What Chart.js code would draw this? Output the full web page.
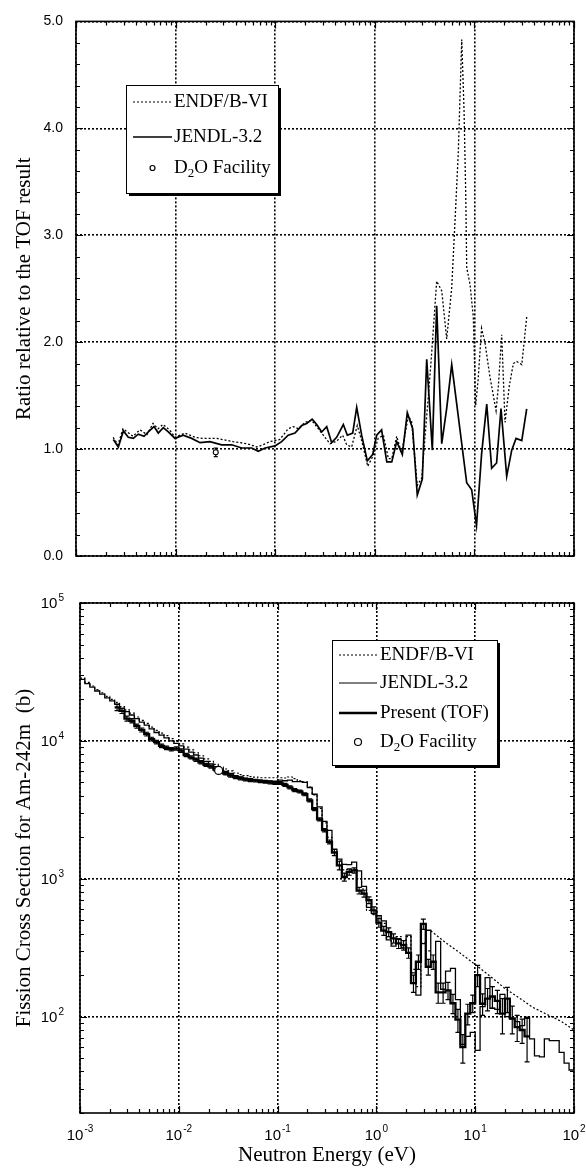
<!DOCTYPE html>
<html>
<head>
<meta charset="utf-8">
<title>Am-242m fission cross section</title>
<script src="https://cdn.jsdelivr.net/npm/chart.js@4.4.1/dist/chart.umd.min.js"></script>
<style>
  html, body { margin: 0; padding: 0; background: #fff; }
  #wrap { position: relative; width: 586px; height: 1172px; }
  #wrap canvas { position: absolute; left: 0; }
  #c-ratio { top: 0; }
  #c-xs { top: 578px; }
</style>
</head>
<body>
<div id="wrap">
  <canvas id="c-ratio" width="586" height="578"></canvas>
  <canvas id="c-xs" width="586" height="594"></canvas>
</div>
<script>
/* Am-242m fission: library / TOF ratio (top) and cross section (bottom) */

// ---- axes ----
const energyDecades = [1e-3, 1e-2, 1e-1, 1, 10, 100];
const energyExponents = ["-3", "-2", "-1", "0", "1", "2"];
const xsDecades = [1e2, 1e3, 1e4, 1e5];
const xsExponents = ["2", "3", "4", "5"];
const ratioTicks = [0, 1, 2, 3, 4, 5];
const ratioMinor = [0.2, 0.4, 0.6, 0.8];
const minorSteps = [2, 3, 4, 5, 6, 7, 8, 9];

// ---- top panel: ratio relative to TOF ----
const ratioJendlE = [0.00237, 0.00266, 0.00299, 0.00335, 0.00376, 0.00422, 0.00482, 0.00532, 0.00607, 0.0067,
  0.00752, 0.00845, 0.00986, 0.0119, 0.0145, 0.0176, 0.0221, 0.029, 0.0366, 0.0461,
  0.0581, 0.0676, 0.0791, 0.0995, 0.116, 0.135, 0.158, 0.185, 0.207, 0.235,
  0.261, 0.293, 0.329, 0.369, 0.414, 0.483, 0.53, 0.6, 0.658, 0.738,
  0.841, 0.953, 1.045, 1.17, 1.32, 1.48, 1.66, 1.89, 2.12, 2.4,
  2.67, 3.0, 3.32, 3.78, 4.18, 4.7, 5.27, 5.92, 8.37, 9.39,
  10.5, 11.8, 13.3, 14.9, 16.7, 18.5, 21.1, 23.7, 26.2, 29.9, 33.5];
const ratioJendl = [1.09, 1.02, 1.17, 1.11, 1.10, 1.14, 1.12, 1.16, 1.21, 1.15,
  1.20, 1.16, 1.10, 1.13, 1.10, 1.06, 1.07, 1.04, 1.04, 1.01,
  1.01, 0.98, 1.01, 1.03, 1.07, 1.13, 1.15, 1.22, 1.24, 1.28,
  1.23, 1.16, 1.21, 1.06, 1.11, 1.23, 1.13, 1.15, 1.39, 1.13,
  0.89, 0.95, 1.13, 1.18, 0.88, 0.88, 1.07, 0.95, 1.34, 1.19,
  0.57, 0.72, 1.84, 0.99, 2.34, 1.05, 1.38, 1.79, 0.685, 0.62,
  0.285, 0.95, 1.42, 0.82, 0.87, 1.38, 0.745, 0.99, 1.10, 1.08, 1.375];
const ratioEndfE = [0.00236, 0.00264, 0.00296, 0.00373, 0.00439, 0.00516, 0.00593, 0.00666, 0.00747, 0.00878,
  0.00986, 0.0124, 0.0157, 0.0188, 0.0259, 0.0377, 0.052, 0.0655, 0.0755, 0.0886,
  0.1115, 0.135, 0.152, 0.171, 0.199, 0.232, 0.261, 0.304, 0.355, 0.414,
  0.476, 0.522, 0.586, 0.667, 0.738, 0.849, 0.953, 1.08, 1.22, 1.37,
  1.48, 1.66, 1.86, 2.17, 2.34, 2.67, 2.96, 3.64, 4.18, 4.7,
  5.27, 5.92, 6.38, 6.89, 7.46, 7.87, 8.18, 8.37, 9.04, 9.75,
  10.3, 10.9, 11.8, 12.8, 14.3, 16.5, 17.4, 18.8, 20.3, 22.4,
  24.6, 26.6, 29.9, 33.5];
const ratioEndf = [1.11, 1.04, 1.19, 1.12, 1.18, 1.135, 1.24, 1.19, 1.23, 1.175,
  1.11, 1.15, 1.11, 1.10, 1.10, 1.07, 1.05, 1.02, 1.04, 1.07,
  1.09, 1.19, 1.21, 1.19, 1.25, 1.27, 1.21, 1.13, 1.05, 1.075,
  1.13, 1.04, 1.02, 1.22, 1.08, 0.84, 0.93, 1.10, 1.13, 0.91,
  0.91, 1.12, 0.96, 1.31, 1.26, 0.66, 0.73, 1.77, 2.57, 2.48,
  2.03, 2.51, 3.12, 3.77, 4.83, 4.17, 3.40, 2.70, 2.54, 2.235,
  1.41, 1.65, 2.13, 1.99, 1.68, 1.36, 1.59, 2.07, 1.25, 1.59,
  1.80, 1.82, 1.79, 2.235];
const ratioD2oE = [0.0253];
const ratioD2o = [0.97];
const ratioD2oErr = [0.04];

// ---- bottom panel: histogram bin edges (eV), 20 per decade ----
const binEdges = [
  0.001, 0.00112, 0.00126, 0.00141, 0.00158, 0.00178, 0.002, 0.00224, 0.00251, 0.00282,
  0.00316, 0.00355, 0.00398, 0.00447, 0.00501, 0.00562, 0.00631, 0.00708, 0.00794, 0.00891,
  0.01, 0.0112, 0.0126, 0.0141, 0.0158, 0.0178, 0.02, 0.0224, 0.0251, 0.0282,
  0.0316, 0.0355, 0.0398, 0.0447, 0.0501, 0.0562, 0.0631, 0.0708, 0.0794, 0.0891,
  0.1, 0.112, 0.126, 0.141, 0.158, 0.178, 0.2, 0.224, 0.251, 0.282,
  0.316, 0.355, 0.398, 0.447, 0.501, 0.562, 0.631, 0.708, 0.794, 0.891,
  1, 1.12, 1.26, 1.41, 1.58, 1.78, 2, 2.24, 2.51, 2.82,
  3.16, 3.55, 3.98, 4.47, 5.01, 5.62, 6.31, 7.08, 7.94, 8.91,
  10, 11.2, 12.6, 14.1, 15.8, 17.8, 20, 22.4, 25.1, 28.2,
  31.6, 35.5, 39.8, 44.7, 50.1, 56.2, 63.1, 70.8, 79.4, 89.1,
  100];

// Present (TOF), barns, starting at bin 7 (2.24 meV)
const tofFirstBin = 7;
const tofXs = [17500, 16500, 14500, 14000, 12800, 12000, 11200, 10300, 9800, 9200, 8900, 8700, 8800,
  8500, 7900, 7600, 7300, 7000, 6700, 6500, 6200, 6000, 5800, 5600, 5450, 5350, 5250, 5200, 5150, 5100, 5050, 5000, 4950,
  4950, 4800, 4600, 4400, 4300, 4100, 3700, 3200, 2700, 2250, 1850, 1550, 1250, 1030, 1120, 1150, 820, 780, 700, 590,
  480, 420, 410, 370, 340, 330, 290, 175, 250, 470, 230, 250, 150, 150, 155, 125, 95, 60, 105, 125,
  200, 124, 135, 140, 130, 105, 135, 97, 84, 80, 72];
const tofErr = [900, 700, 600, 500, 450, 400, 350, 320, 300, 280, 260, 250, 250,
  240, 220, 200, 190, 180, 170, 160, 150, 150, 140, 140, 130, 130, 130, 130, 120, 120, 120, 120, 120,
  120, 120, 110, 110, 100, 100, 90, 80, 70, 60, 60, 80, 90, 70, 60, 50, 45, 45, 40, 35,
  35, 32, 30, 28, 28, 26, 25, 25, 30, 40, 30, 30, 25, 25, 22, 20, 18, 14, 18, 18,
  35, 22, 25, 25, 25, 30, 28, 22, 18, 16, 25];

// JENDL-3.2, all 100 bins
const jendlFirstBin = 0;
const jendlXs = [27900, 26000, 24500, 23000, 21800, 20500, 19500, 18500, 17200, 16300,
  15400, 14500, 13700, 13000, 12200, 11500, 11000, 10500, 10000, 9600,
  9200, 8700, 8300, 7900, 7500, 7100, 6800, 6500, 6200, 6000,
  5800, 5600, 5450, 5350, 5250, 5200, 5150, 5100, 5100, 5100,
  5200, 5140, 5200, 5060, 5070, 5000, 4590, 4100, 3320, 2610,
  2240, 1640, 1390, 1270, 1265, 1320, 1140, 880, 620, 560,
  540, 495, 360, 325, 364, 314, 390, 208, 143, 338,
  423, 248, 351, 158, 214, 224, 133, 63, 72, 77,
  57, 118, 192, 115, 113, 145, 100, 96, 92, 86,
  99, 69, 52, 51, 69, 67, 67, 55, 46, 41];

// ENDF/B-VI histogram up to 3.55 eV, then its smooth curve to 100 eV
const endfFirstBin = 0;
const endfXs = [28500, 26600, 25000, 23500, 22300, 21000, 20000, 19000, 17700, 16800,
  15900, 14900, 14100, 13400, 12600, 11900, 11400, 10900, 10400, 9900,
  9500, 9000, 8600, 8200, 7800, 7400, 7100, 6750, 6450, 6250,
  6050, 5850, 5700, 5600, 5500, 5450, 5400, 5400, 5400, 5400,
  5400, 5380, 5470, 5320, 5120, 5040, 4630, 4060, 3240, 2540,
  2000, 1630, 1350, 1160, 1165, 1170, 1000, 842, 590, 550,
  528, 475, 373, 337, 381, 317, 380, 220, 165, 343, 300];
const endfSmoothE = [3.55, 5, 7, 10.3, 15, 20, 30, 38, 53, 75, 100];
const endfSmoothXs = [420, 345, 290, 235, 190, 160, 132, 117, 104, 92, 80];

const d2oE = [0.0253];
const d2oXs = [6100];

// ---- helpers ----
const SANS = '"Liberation Sans", Arial, Helvetica, sans-serif';
const SERIF = '"Liberation Serif", "Times New Roman", Times, serif';

function zipPoints(xs, ys) {
  return xs.map((x, i) => ({ x, y: ys[i] }));
}

function stepPoints(edges, firstBin, values) {
  const pts = values.map((v, i) => ({ x: edges[firstBin + i], y: v }));
  pts.push({ x: edges[firstBin + values.length], y: values[values.length - 1] });
  return pts;
}

function logTickList(decades, lo, hi) {
  const out = [];
  decades.forEach((d) => {
    if (d >= lo && d <= hi) out.push([d, 7]);
    minorSteps.forEach((m) => {
      const v = d * m;
      if (v >= lo && v <= hi) out.push([v, 4]);
    });
  });
  return out;
}

function linearTickList(majors, minors) {
  const out = [];
  majors.forEach((m) => {
    out.push([m, 7]);
    minors.forEach((f) => {
      if (m + f < majors[majors.length - 1]) out.push([m + f, 4]);
    });
  });
  return out;
}

// frame round the plot with inward ticks on all four sides
function frameTicksPlugin(xTicks, yTicks) {
  return {
    id: "frameTicks",
    afterDatasetsDraw(chart) {
      const { ctx, chartArea: a, scales } = chart;
      ctx.save();
      ctx.strokeStyle = "#000";
      ctx.lineWidth = 1.2;
      ctx.beginPath();
      xTicks.forEach(([v, len]) => {
        const px = Math.round(scales.x.getPixelForValue(v)) + 0.5;
        ctx.moveTo(px, a.bottom);
        ctx.lineTo(px, a.bottom - len);
        ctx.moveTo(px, a.top);
        ctx.lineTo(px, a.top + len);
      });
      yTicks.forEach(([v, len]) => {
        const py = Math.round(scales.y.getPixelForValue(v)) + 0.5;
        ctx.moveTo(a.left, py);
        ctx.lineTo(a.left + len, py);
        ctx.moveTo(a.right, py);
        ctx.lineTo(a.right - len, py);
      });
      ctx.stroke();
      ctx.lineWidth = 1.6;
      ctx.strokeRect(a.left, a.top, a.right - a.left, a.bottom - a.top);
      ctx.restore();
    },
  };
}

function errorBarPlugin(bars, cap) {
  return {
    id: "errorBars",
    beforeDatasetsDraw(chart) {
      const { ctx, scales } = chart;
      ctx.save();
      ctx.strokeStyle = "#000";
      ctx.lineWidth = 1.2;
      ctx.beginPath();
      bars.forEach(({ x, lo, hi }) => {
        const px = scales.x.getPixelForValue(x);
        const y1 = scales.y.getPixelForValue(lo);
        const y2 = scales.y.getPixelForValue(hi);
        ctx.moveTo(px, y1);
        ctx.lineTo(px, y2);
        ctx.moveTo(px - cap, y1);
        ctx.lineTo(px + cap, y1);
        ctx.moveTo(px - cap, y2);
        ctx.lineTo(px + cap, y2);
      });
      ctx.stroke();
      ctx.restore();
    },
  };
}

// text with "_2" style subscripts
function drawRich(ctx, text, x, y, size) {
  const parts = text.split(/_(\d)/);
  let cx = x;
  parts.forEach((p, i) => {
    const sub = i % 2 === 1;
    ctx.font = `${sub ? Math.round(size * 0.68) : size}px ${SERIF}`;
    ctx.fillText(p, cx, sub ? y + size * 0.3 : y);
    cx += ctx.measureText(p).width;
  });
}

function legendPlugin(box, rows) {
  return {
    id: "boxLegend",
    afterDraw(chart) {
      const ctx = chart.ctx;
      ctx.save();
      ctx.fillStyle = "#000";
      ctx.fillRect(box.x + 3, box.y + 3, box.w, box.h);
      ctx.fillStyle = "#fff";
      ctx.fillRect(box.x, box.y, box.w, box.h);
      ctx.strokeStyle = "#000";
      ctx.lineWidth = 1;
      ctx.strokeRect(box.x + 0.5, box.y + 0.5, box.w, box.h);
      rows.forEach((r) => {
        ctx.strokeStyle = "#000";
        ctx.setLineDash(r.dash || []);
        if (r.kind === "circle") {
          ctx.lineWidth = 1.2;
          ctx.beginPath();
          ctx.arc((box.s0 + box.s1) / 2, r.y, r.radius, 0, Math.PI * 2);
          ctx.fillStyle = "#fff";
          ctx.fill();
          ctx.stroke();
        } else {
          ctx.lineWidth = r.width;
          ctx.beginPath();
          ctx.moveTo(box.s0, r.y);
          ctx.lineTo(box.s1, r.y);
          ctx.stroke();
        }
        ctx.setLineDash([]);
        ctx.fillStyle = "#000";
        ctx.textBaseline = "middle";
        drawRich(ctx, r.text, box.tx, r.y, box.size);
      });
      ctx.restore();
    },
  };
}

// "10" with a raised exponent, as the log axes are labelled
function powerLabelsPlugin() {
  return {
    id: "powerLabels",
    afterDraw(chart) {
      const { ctx, chartArea: a, scales } = chart;
      ctx.save();
      ctx.fillStyle = "#000";
      ctx.textBaseline = "alphabetic";
      ctx.textAlign = "left";
      const measure = (t, s) => {
        ctx.font = `${s}px ${SANS}`;
        return ctx.measureText(t).width;
      };
      energyDecades.forEach((v, i) => {
        const px = scales.x.getPixelForValue(v);
        const wb = measure("10", 15);
        const we = measure(energyExponents[i], 10);
        const x0 = px - (wb + we + 1) / 2;
        ctx.font = `15px ${SANS}`;
        ctx.fillText("10", x0, a.bottom + 27);
        ctx.font = `10px ${SANS}`;
        ctx.fillText(energyExponents[i], x0 + wb + 1, a.bottom + 19);
      });
      xsDecades.forEach((v, i) => {
        const py = scales.y.getPixelForValue(v);
        const wb = measure("10", 15);
        const we = measure(xsExponents[i], 10);
        const x0 = a.left - 16 - wb - we - 1;
        ctx.font = `15px ${SANS}`;
        ctx.fillText("10", x0, py + 5);
        ctx.font = `10px ${SANS}`;
        ctx.fillText(xsExponents[i], x0 + wb + 1, py - 2);
      });
      ctx.restore();
    },
  };
}

const gridStyle = { color: "#000", lineWidth: 1.6, drawTicks: false };
const borderStyle = { display: false, dash: [2, 2] };
const baseOptions = {
  responsive: false,
  animation: false,
  events: [],
  devicePixelRatio: 1,
  plugins: { legend: { display: false }, tooltip: { enabled: false } },
};

// ---- top panel ----
new Chart(document.getElementById("c-ratio"), {
  type: "line",
  data: {
    datasets: [
      {
        data: zipPoints(ratioD2oE, ratioD2o),
        showLine: false,
        pointRadius: 2.5,
        pointBorderWidth: 1.1,
        pointBorderColor: "#000",
        pointBackgroundColor: "#fff",
      },
      { data: zipPoints(ratioJendlE, ratioJendl), borderColor: "#000", borderWidth: 1.7, pointRadius: 0 },
      { data: zipPoints(ratioEndfE, ratioEndf), borderColor: "#000", borderWidth: 1.3, borderDash: [2, 2], pointRadius: 0 },
    ],
  },
  options: {
    ...baseOptions,
    layout: { padding: { top: 13, right: 12, left: 0, bottom: 0 } },
    scales: {
      x: {
        type: "logarithmic",
        min: 1e-3,
        max: 100,
        afterBuildTicks: (s) => { s.ticks = energyDecades.map((v) => ({ value: v })); },
        afterFit: (s) => { s.height = 22; },
        ticks: { display: false },
        grid: gridStyle,
        border: borderStyle,
      },
      y: {
        min: 0,
        max: 5,
        afterBuildTicks: (s) => { s.ticks = ratioTicks.map((v) => ({ value: v })); },
        afterFit: (s) => { s.width = 76; },
        ticks: { padding: 13, color: "#000", font: { family: SANS, size: 14 }, callback: (v) => Number(v).toFixed(1) },
        grid: gridStyle,
        border: borderStyle,
        title: {
          display: true,
          text: "Ratio relative to the TOF result",
          color: "#000",
          font: { family: SERIF, size: 21 },
          padding: { top: 12, bottom: 0 },
        },
      },
    },
  },
  plugins: [
    errorBarPlugin(ratioD2oE.map((e, i) => ({ x: e, lo: ratioD2o[i] - ratioD2oErr[i], hi: ratioD2o[i] + ratioD2oErr[i] })), 2),
    frameTicksPlugin(logTickList(energyDecades, 1e-3, 100), linearTickList(ratioTicks, ratioMinor)),
    legendPlugin({ x: 126, y: 85, w: 152, h: 108, s0: 133, s1: 172, tx: 174, size: 19 }, [
      { y: 102, kind: "line", width: 1, dash: [2, 2], text: "ENDF/B-VI" },
      { y: 137, kind: "line", width: 1.4, text: "JENDL-3.2" },
      { y: 168, kind: "circle", radius: 2.5, text: "D_2O Facility" },
    ]),
  ],
});

// ---- bottom panel ----
new Chart(document.getElementById("c-xs"), {
  type: "line",
  data: {
    datasets: [
      {
        data: zipPoints(d2oE, d2oXs),
        showLine: false,
        pointRadius: 4,
        pointBorderWidth: 1.2,
        pointBorderColor: "#000",
        pointBackgroundColor: "#fff",
      },
      { data: stepPoints(binEdges, tofFirstBin, tofXs), stepped: "before", borderColor: "#000", borderWidth: 2.3, pointRadius: 0 },
      { data: stepPoints(binEdges, jendlFirstBin, jendlXs), stepped: "before", borderColor: "#000", borderWidth: 1.3, pointRadius: 0 },
      { data: zipPoints(endfSmoothE, endfSmoothXs), borderColor: "#000", borderWidth: 1.2, borderDash: [2, 2], pointRadius: 0 },
      { data: stepPoints(binEdges, endfFirstBin, endfXs), stepped: "before", borderColor: "#000", borderWidth: 1.2, borderDash: [2, 2], pointRadius: 0 },
    ],
  },
  options: {
    ...baseOptions,
    layout: { padding: { top: 25, right: 12, left: 0, bottom: 0 } },
    scales: {
      x: {
        type: "logarithmic",
        min: 1e-3,
        max: 100,
        afterBuildTicks: (s) => { s.ticks = energyDecades.map((v) => ({ value: v })); },
        afterFit: (s) => { s.height = 59; },
        ticks: { display: false },
        grid: gridStyle,
        border: borderStyle,
        title: {
          display: true,
          text: "Neutron Energy (eV)",
          color: "#000",
          font: { family: SERIF, size: 21 },
          padding: { top: 0, bottom: 4 },
        },
      },
      y: {
        type: "logarithmic",
        min: 20,
        max: 1e5,
        afterBuildTicks: (s) => { s.ticks = xsDecades.map((v) => ({ value: v })); },
        afterFit: (s) => { s.width = 80; },
        ticks: { display: false },
        grid: gridStyle,
        border: borderStyle,
        title: {
          display: true,
          text: "Fission Cross Section for Am-242m  (b)",
          color: "#000",
          font: { family: SERIF, size: 21 },
          padding: { top: 12, bottom: 0 },
        },
      },
    },
  },
  plugins: [
    errorBarPlugin(tofXs.map((v, i) => ({
      x: Math.sqrt(binEdges[tofFirstBin + i] * binEdges[tofFirstBin + i + 1]),
      lo: v - tofErr[i],
      hi: v + tofErr[i],
    })), 2.5),
    frameTicksPlugin(logTickList(energyDecades, 1e-3, 100), logTickList([10, ...xsDecades], 20, 1e5)),
    powerLabelsPlugin(),
    legendPlugin({ x: 332, y: 62, w: 165, h: 125, s0: 339, s1: 377, tx: 380, size: 19 }, [
      { y: 77, kind: "line", width: 1, dash: [2, 2], text: "ENDF/B-VI" },
      { y: 105, kind: "line", width: 1.2, text: "JENDL-3.2" },
      { y: 135, kind: "line", width: 2.4, text: "Present (TOF)" },
      { y: 164, kind: "circle", radius: 3.5, text: "D_2O Facility" },
    ]),
  ],
});
</script>
</body>
</html>
